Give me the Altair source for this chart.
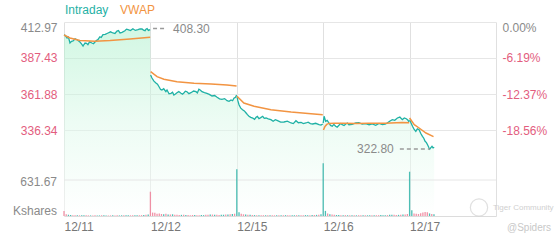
import altair as alt
import pandas as pd

PREV_CLOSE = 412.97
DAY_LEN = 390
dates = ["12/11", "12/12", "12/15", "12/16", "12/17"]
price_ticks = ["412.97", "387.43", "361.88", "336.34"]
pct_ticks = ["0.00%", "-6.19%", "-12.37%", "-18.56%"]
vol_ticks = ["631.67", "Kshares"]
vol_tick_values = [631.67, 0]
PRICE_DOMAIN = [275.32, 412.97]
VOL_DOMAIN = [0, 3404]

TEAL = "#1fb1a5"
ORANGE = "#f29442"
PINK = "#e35d7e"
GRAY = "#8a8a8a"
GRID = "#e6e6e6"
FONT = "Liberation Sans"

# ---- intraday price (minute of session, price) ----
d1_t = [0, 5, 14, 20, 27, 34, 41, 50, 59, 65, 72, 79, 86, 90, 95, 102, 108, 115, 126, 133,
        140, 146, 153, 162, 168, 176, 186, 199, 210, 221, 230, 239, 246, 253, 262, 275, 282, 289, 300, 311,
        322, 334, 343, 352, 359, 366, 370, 375, 381, 389]
d1_p = [403.75, 403.53, 401.62, 402.3, 398.07, 399.2, 399.49, 401.0, 400.41, 399.6,
        398.78, 397.5, 395.94, 397.0, 398.07, 397.9, 396.86, 398.9, 398.07, 397.6,
        398.78, 399.9, 400.41, 402.5, 402.0, 403.96, 404.2, 405.17, 406.0, 405.17,
        404.8, 406.58, 406.9, 405.17, 405.6, 406.80, 407.9, 407.51, 406.9, 408.22,
        407.0, 407.51, 408.1, 408.00, 407.2, 406.80, 407.9, 408.30, 407.0, 407.51]
d2_t = [1, 7, 16, 25, 32, 39, 46, 52, 60, 70, 75, 84, 93, 100, 106, 113, 120, 128, 138, 145,
        152, 158, 165, 174, 183, 195, 206, 212, 219, 226, 233, 244, 255, 266, 278, 290, 301, 312, 323, 335,
        346, 355, 364, 371, 377, 384, 389]
d2_p = [375.36, 373.24, 371.0, 369.69, 368.9, 367.06, 365.1, 364.73, 365.6, 363.52,
        364.73, 362.0, 362.38, 363.2, 361.17, 361.9, 362.81, 363.6, 362.38, 361.8,
        362.81, 363.9, 363.52, 362.1, 362.81, 364.0, 363.52, 362.6, 365.22, 364.6,
        363.52, 362.9, 362.38, 361.6, 360.46, 360.8, 359.53, 358.5, 358.12, 358.6,
        357.12, 356.7, 357.62, 357.1, 358.83, 359.6, 361.17]
d3_t = [1, 5, 10, 18, 26, 34, 42, 48, 55, 63, 72, 80, 87, 93, 100, 108, 117, 124, 132, 142,
        154, 164, 174, 184, 198, 213, 228, 245, 255, 267, 278, 290, 300, 312, 322, 332, 343, 356, 371, 380, 388]
d3_p = [360.25, 357.0, 354.29, 351.8, 350.74, 349.9, 348.40, 347.2, 346.06, 345.3,
        344.85, 343.9, 345.35, 346.0, 344.36, 345.1, 346.06, 344.6, 344.85, 344.2,
        343.65, 342.5, 343.6, 342.94, 341.9, 342.02, 342.6, 341.31, 340.9, 342.94,
        341.5, 341.80, 340.9, 341.31, 341.9, 340.9, 340.60, 341.1, 340.10, 339.8, 340.60]
d4_t = [0, 4, 11, 18, 26, 33, 41, 48, 56, 63, 71, 78, 86, 94, 102, 109, 116, 131, 147, 161,
        176, 192, 207, 222, 237, 252, 267, 280, 289, 300, 312, 323, 335, 346, 357, 366, 375, 382, 388]
d4_p = [341.31, 346.06, 342.51, 343.2, 341.31, 339.6, 338.97, 340.3, 338.97, 338.4,
        339.68, 340.9, 340.10, 339.5, 340.60, 341.3, 340.10, 340.3, 341.31, 341.6,
        340.60, 340.9, 340.10, 340.7, 339.68, 341.0, 340.10, 340.5, 341.31, 342.6,
        343.65, 343.2, 344.85, 345.5, 343.65, 344.9, 344.36, 343.4, 341.98]
d5_t = [0, 6, 13, 20, 28, 35, 43, 50, 58, 64, 70, 76, 81, 88, 91, 96, 101, 106, 111]
d5_p = [343.65, 341.5, 338.97, 337.0, 335.42, 337.2, 336.55, 334.0, 331.87, 330.5,
        328.32, 327.4, 325.91, 323.57, 322.80, 323.9, 324.78, 323.6, 324.08]

# ---- VWAP ----
v1_t = [0, 27, 72, 140, 208, 298, 389]
v1_p = [403.75, 401.62, 399.84, 399.28, 399.84, 400.90, 402.11]
v2_t = [1, 30, 61, 120, 197, 274, 346, 389]
v2_p = [377.71, 374.16, 372.31, 370.61, 369.47, 368.98, 368.27, 367.56]
v3_t = [1, 32, 78, 154, 245, 335, 388]
v3_p = [360.25, 355.50, 353.16, 350.74, 349.11, 347.90, 347.19]
v4_t = [1, 8, 16, 26, 50, 90, 150, 207, 280, 356, 388]
v4_p = [336.34, 338.9, 340.3, 341.0, 341.2, 341.1, 341.0, 341.1, 341.2, 341.6, 341.5]
v5_t = [0, 21, 43, 74, 108]
v5_p = [344.85, 340.10, 337.76, 334.21, 331.6]

# ---- volume (Kshares, every 10 minutes) and direction ----
vol1 = [88, 30, 22, 18, 15, 14, 14, 12, 12, 11, 12, 11, 10, 10, 11, 10, 10, 12, 11, 10,
        10, 11, 12, 10, 11, 10, 12, 11, 12, 13, 12, 14, 13, 14, 15, 16, 18, 20, 28]
dir1 = list("dduud" "duduu" "ddudd" "uuduu" "ddudd" "uuduu" "dduud" "dudu")
vol2 = [426, 60, 55, 40, 45, 35, 30, 38, 28, 25, 30, 22, 20, 18, 20, 22, 18, 16, 15, 18,
        16, 15, 14, 18, 15, 20, 22, 28, 25, 22, 20, 18, 20, 22, 25, 28, 30, 35, 40]
dir2 = list("ddddd" "dudud" "udddu" "duddd" "udduu" "ddudu" "dduud" "udud")
vol3 = [820, 65, 40, 30, 25, 22, 20, 18, 16, 15, 15, 14, 14, 13, 15, 14, 13, 12, 14, 13,
        12, 14, 15, 13, 12, 14, 13, 15, 14, 13, 15, 16, 14, 15, 16, 18, 20, 22, 30]
dir3 = list("uuddu" "dudud" "uddud" "uddud" "ududd" "uudud" "duudu" "dudu")
vol4 = [925, 90, 45, 30, 25, 20, 18, 16, 15, 14, 15, 13, 14, 12, 13, 12, 14, 13, 12, 13,
        12, 14, 13, 12, 14, 15, 16, 14, 15, 16, 20, 22, 20, 18, 20, 22, 25, 28, 35]
dir4 = list("uudud" "duudu" "dudud" "uddud" "uudud" "duuud" "uuddu" "dudd")
vol5 = [777, 100, 45, 40, 35, 50, 60, 70, 65, 45, 35, 30]
dir5 = list("uuddd" "dddd" "udu")

legend_labels = ["Intraday", "VWAP"]

# ---- build tables ----
def build(ts_list, ps_list):
    rows = []
    for i, (ts, ps) in enumerate(zip(ts_list, ps_list)):
        for t, p in zip(ts, ps):
            rows.append({"t": i * DAY_LEN + t, "p": p, "day": dates[i]})
    return pd.DataFrame(rows)

df_price = build([d1_t, d2_t, d3_t, d4_t, d5_t], [d1_p, d2_p, d3_p, d4_p, d5_p])
df_price["base"] = PRICE_DOMAIN[0]
df_vwap = build([v1_t, v2_t, v3_t, v4_t, v5_t], [v1_p, v2_p, v3_p, v4_p, v5_p])

vrows = []
for i, (vs, ds) in enumerate(zip([vol1, vol2, vol3, vol4, vol5], [dir1, dir2, dir3, dir4, dir5])):
    for k, (v, d) in enumerate(zip(vs, ds)):
        vrows.append({"t": i * DAY_LEN + 10 * k, "v": v, "dir": d})
df_vol = pd.DataFrame(vrows)

max_df = df_price.loc[[df_price["p"].idxmax()]]
min_df = df_price.loc[[df_price["p"].idxmin()]]


def expr_map(values, labels, default="''"):
    e = default
    for v, l in reversed(list(zip(values, labels))):
        e = f"abs(datum.value - {v}) < 0.01 ? '{l}' : {e}"
    return e

price_vals = [float(s) for s in price_ticks]
x_vals = [i * DAY_LEN for i in range(len(dates) + 1)]

X = alt.X(
    "t:Q",
    scale=alt.Scale(domain=[0, DAY_LEN * len(dates)], nice=False, zero=False),
    axis=alt.Axis(
        values=x_vals, labelExpr=expr_map(x_vals[:-1], dates), grid=True, gridColor="#e0e0e0",
        ticks=False, domain=True, domainColor="#dcdcdc", labelAlign="left", labelColor="#777777",
        labelFontSize=12, labelFont=FONT, labelPadding=5, title=None, labelFlush=False,
        labelOverlap=False, labelBaseline="top",
    ),
)

price_scale = alt.Scale(domain=PRICE_DOMAIN, nice=False, zero=False)
label_color = {"condition": {"test": f"datum.value > {PREV_CLOSE - 0.5}", "value": GRAY}, "value": PINK}
label_base = {"condition": {"test": f"datum.value > {PREV_CLOSE - 0.5}", "value": "top"}, "value": "middle"}

Y = alt.Y(
    "p:Q", scale=price_scale,
    axis=alt.Axis(
        orient="left", values=price_vals, format=".2f", grid=True, gridColor=GRID, ticks=False,
        domain=False, labelColor=label_color, labelBaseline=label_base, labelFontSize=12,
        labelFont=FONT, labelPadding=7, title=None,
    ),
)

gradient = alt.LinearGradient(
    gradient="linear", x1=0, y1=0, x2=0, y2=1,
    stops=[
        alt.GradientStop(color="#a6efc8", offset=0),
        alt.GradientStop(color="#dbf9e9", offset=0.5),
        alt.GradientStop(color="#ffffff", offset=1),
    ],
)

area = alt.Chart(df_price).mark_area(color=gradient, fillOpacity=0.5, interpolate="linear").encode(
    x=X, y=Y, y2="base:Q")
line = alt.Chart(df_price).mark_line(color=TEAL, strokeWidth=1.3).encode(
    x=X, y=Y, detail="day:N", order="t:Q")
vwap = alt.Chart(df_vwap).mark_line(color=ORANGE, strokeWidth=1.5).encode(
    x=X, y=Y, detail="day:N", order="t:Q")

max_rule = alt.Chart(max_df).transform_calculate(xa="datum.t + 27", xb="datum.t + 90").mark_rule(
    color="#9a9a9a", strokeDash=[4, 3], strokeWidth=1.5).encode(x="xa:Q", x2="xb:Q", y="p:Q")
max_text = alt.Chart(max_df).mark_text(align="left", baseline="middle", dx=26, color=GRAY,
                                       fontSize=12, font=FONT).encode(
    x="t:Q", y="p:Q", text=alt.Text("p:Q", format=".2f"))
min_rule = alt.Chart(min_df).transform_calculate(xa="datum.t - 135", xb="datum.t").mark_rule(
    color="#9a9a9a", strokeDash=[4, 3], strokeWidth=1.5).encode(x="xa:Q", x2="xb:Q", y="p:Q")
min_text = alt.Chart(min_df).mark_text(align="right", baseline="middle", dx=-36, color=GRAY,
                                       fontSize=12, font=FONT).encode(
    x="t:Q", y="p:Q", text=alt.Text("p:Q", format=".2f"))

price_layer = alt.layer(area, line, vwap, max_rule, max_text, min_rule, min_text)

pct_df = pd.DataFrame({"p": price_vals})
pct_layer = alt.Chart(pct_df).mark_point(opacity=0).encode(
    x=alt.value(0),
    y=alt.Y("p:Q", scale=alt.Scale(domain=PRICE_DOMAIN, nice=False, zero=False),
            axis=alt.Axis(orient="right", values=price_vals, labelExpr=expr_map(price_vals, pct_ticks),
                          grid=False, ticks=False, domain=False, labelColor=label_color,
                          labelBaseline=label_base, labelFontSize=12, labelFont=FONT,
                          labelPadding=6, title=None)),
)

VY = alt.Y("v:Q", scale=alt.Scale(domain=VOL_DOMAIN, nice=False, zero=True), axis=None)
vol_bars = alt.Chart(df_vol).mark_rule(strokeWidth=1.3, opacity=0.85).encode(
    x="t:Q", y=VY, y2=alt.datum(0),
    color=alt.Color("dir:N", scale=alt.Scale(domain=["u", "d"], range=["#2db3a7", "#ef7f98"]), legend=None),
)
vol_lab_df = pd.DataFrame({"v": vol_tick_values, "label": vol_ticks})
vol_grid = alt.Chart(vol_lab_df.iloc[[0]]).mark_rule(color=GRID, strokeWidth=1).encode(
    x=alt.datum(0), x2=alt.datum(DAY_LEN * len(dates)), y=VY)
vol_top = alt.Chart(vol_lab_df.iloc[[0]]).mark_text(align="right", baseline="middle", dy=1.5,
                                                    color=GRAY, fontSize=12, font=FONT).encode(
    x=alt.value(-7), y=VY, text="label:N")
vol_unit = alt.Chart(vol_lab_df.iloc[[1]]).mark_text(align="right", baseline="middle", dy=-5,
                                                     color=GRAY, fontSize=12, font=FONT).encode(
    x=alt.value(-7), y=VY, text="label:N")
vol_layer = alt.layer(vol_grid, vol_bars, vol_top, vol_unit)

one = pd.DataFrame({"a": [0]})
leg1 = alt.Chart(one).mark_text(text=legend_labels[0], align="left", baseline="middle", color=TEAL,
                                fontSize=12, font=FONT).encode(x=alt.value(1), y=alt.value(-12))
leg2 = alt.Chart(one).mark_text(text=legend_labels[1], align="left", baseline="middle", color=ORANGE,
                                fontSize=12, font=FONT).encode(x=alt.value(56), y=alt.value(-12))
wm_circle = alt.Chart(one).mark_point(shape="circle", size=300, filled=False, color="#d4d4d4",
                                      strokeWidth=1.2).encode(x=alt.value(415), y=alt.value(185.5))
wm1 = alt.Chart(one).mark_text(text="Tiger Community", align="left", baseline="middle", color="#d0d0d0",
                               fontSize=8, font=FONT).encode(x=alt.value(429), y=alt.value(186))
wm2 = alt.Chart(one).mark_text(text="@Spiders", align="left", baseline="middle", color="#c8c8c8",
                               fontSize=10, font=FONT).encode(x=alt.value(443), y=alt.value(205.5))
deco = alt.layer(leg1, leg2, wm_circle, wm1, wm2)

chart = alt.layer(price_layer, pct_layer, vol_layer, deco).resolve_scale(y="independent").properties(
    width=432, height=194,
    autosize=alt.AutoSizeParams(type="none"),
    padding={"left": 64, "top": 22, "right": 64, "bottom": 24},
).configure_view(stroke=None).configure_text(font=FONT)

chart.save("out.html", embed_options={"renderer": "svg", "actions": False})
